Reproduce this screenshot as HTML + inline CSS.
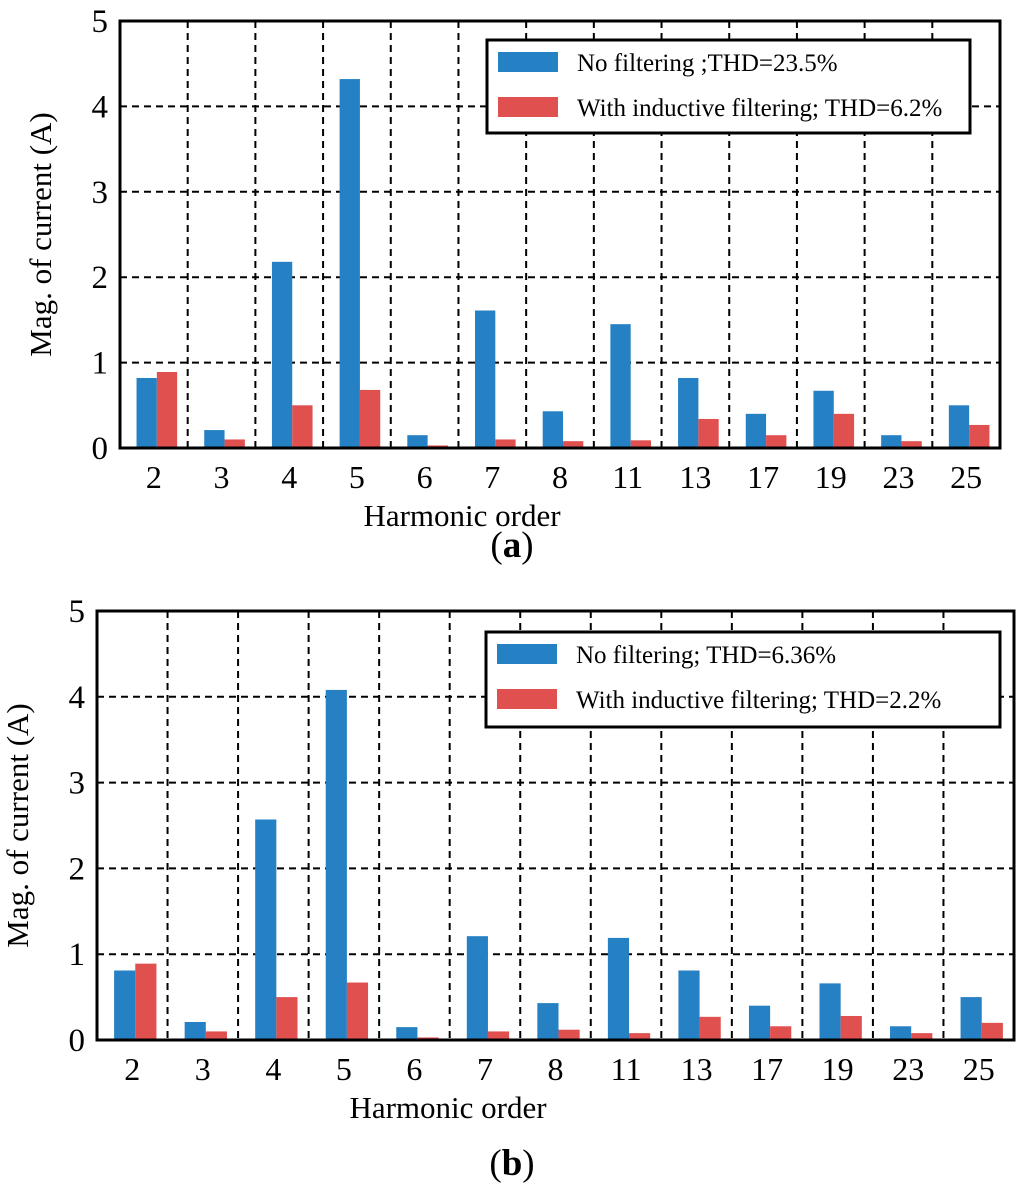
<!DOCTYPE html>
<html><head><meta charset="utf-8"><style>
body{margin:0;background:#fff}
svg{display:block;font-family:"Liberation Serif",serif}
text{font-family:"Liberation Serif",serif}
</style></head><body>
<svg id="svg" width="1024" height="1188" viewBox="0 0 1024 1188"></svg>
<script>
const categories=["2","3","4","5","6","7","8","11","13","17","19","23","25"];
const yTicks=[0,1,2,3,4,5];
const blueA=[0.82,0.21,2.18,4.32,0.15,1.61,0.43,1.45,0.82,0.40,0.67,0.15,0.50];
const redA=[0.89,0.10,0.50,0.68,0.03,0.10,0.08,0.09,0.34,0.15,0.40,0.08,0.27];
const blueB=[0.81,0.21,2.57,4.08,0.15,1.21,0.43,1.19,0.81,0.40,0.66,0.16,0.50];
const redB=[0.89,0.10,0.50,0.67,0.03,0.10,0.12,0.08,0.27,0.16,0.28,0.08,0.20];
const legendA=["No filtering ;THD=23.5%","With inductive filtering; THD=6.2%"];
const legendB=["No filtering; THD=6.36%","With inductive filtering; THD=2.2%"];
const NS="http://www.w3.org/2000/svg";
const svg=document.getElementById('svg');
function mk(tag,attrs,parent,text){const e=document.createElementNS(NS,tag);for(const k in attrs)e.setAttribute(k,attrs[k]);if(tag==='text')e.setAttribute('font-family','Liberation Serif, serif');if(text!==undefined)e.textContent=text;(parent||svg).appendChild(e);return e;}
function chart(id,L,R,T,B,blue,red,leg,lb,capY,xTitleX){
  const g=mk('g',{});
  
  
  const n=categories.length,cw=(R-L)/n;
  const y=v=>B-(v/5)*(B-T);
  const x=i=>L+i*cw;
  yTicks.forEach(t=>{ if(t>0&&t<5){const l=mk('line',{x1:L,x2:R,y1:y(t),y2:y(t),stroke:'#000','stroke-width':2,'stroke-dasharray':'7,5'},g);
    }
    const tx=mk('text',{x:L-12,y:y(t)+11,'font-size':33,'text-anchor':'end'},g,String(t));
    });
  for(let i=1;i<n;i++){const l=mk('line',{x1:x(i),x2:x(i),y1:T,y2:B,stroke:'#000','stroke-width':2,'stroke-dasharray':'7,5'},g);
    }
  const bw=cw*0.3;
  categories.forEach((c,i)=>{
    const cx=x(i)+cw/2+3;
    const b=mk('rect',{x:cx-bw,y:y(blue[i]),width:bw,height:B-y(blue[i]),fill:'#2581C3'},g);
    
    const r=mk('rect',{x:cx,y:y(red[i]),width:bw,height:B-y(red[i]),fill:'#E0504F'},g);
    
    const t=mk('text',{x:x(i)+cw/2,y:B+40,'font-size':32,'text-anchor':'middle'},g,c);
    
  });
  const fr=mk('rect',{x:L,y:T,width:R-L,height:B-T,fill:'none',stroke:'#000','stroke-width':3},g);
  
  const yl=mk('text',{x:0,y:0,'font-size':31,'text-anchor':'middle',transform:`translate(${L-69},${(T+B)/2}) rotate(-90)`},g,'Mag. of current (A)');
  
  const xl=mk('text',{x:xTitleX,y:B+78,'font-size':31,'text-anchor':'middle'},g,'Harmonic order');
  
  const lg=mk('g',{},g);
  
  mk('rect',{x:lb[0],y:lb[1],width:lb[2],height:lb[3],fill:'#fff',stroke:'#000','stroke-width':3},lg);
  [['#2581C3',leg[0]],['#E0504F',leg[1]]].forEach((p,k)=>{
    const yy=lb[1]+22+k*45;
    const s=mk('rect',{x:lb[0]+11,y:yy-10,width:60,height:20,fill:p[0]},lg);
    
    const t=mk('text',{x:lb[0]+90,y:yy+9,'font-size':25},lg,p[1]);
    
  });
  const cap=mk('text',{x:512,y:capY,'font-size':37,'text-anchor':'middle'},g);
  
  mk('tspan',{},cap,'(');mk('tspan',{'font-weight':'bold'},cap,id);mk('tspan',{},cap,')');
}
chart('a',120,1000,21,448,blueA,redA,legendA,[487,40,483,93],557,462);
chart('b',97,1014,611,1040,blueB,redB,legendB,[486,632,514,95],1175,448);
</script>
</body></html>
